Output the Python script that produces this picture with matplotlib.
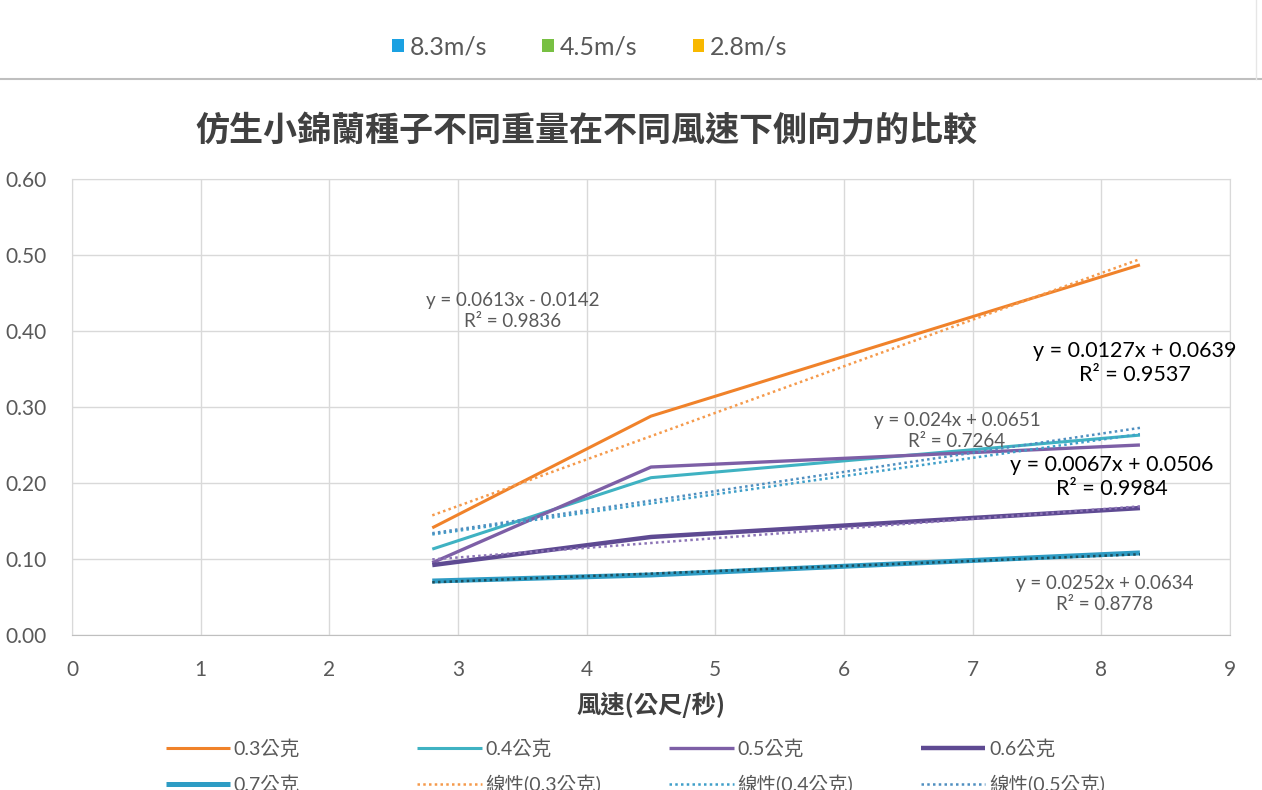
import matplotlib
matplotlib.use("Agg")
import matplotlib.pyplot as plt
from matplotlib.lines import Line2D
from matplotlib.patches import Patch
import numpy as np

plt.rcParams['font.family'] = ['Lato', 'Noto Sans CJK TC', 'DejaVu Sans']

# Wind speeds (m/s) and lateral force for each seed weight
wind_speed = [2.8, 4.5, 8.3]
force_03 = [0.141, 0.288, 0.487]
force_04 = [0.113, 0.207, 0.263]
force_05 = [0.095, 0.221, 0.250]
force_06 = [0.092, 0.129, 0.167]
force_07 = [0.071, 0.079, 0.108]

series_names = ['0.3公克', '0.4公克', '0.5公克', '0.6公克', '0.7公克']

# Linear trend lines: (slope, intercept, R²)
trend_03 = (0.0613, -0.0142, 0.9836)
trend_04 = (0.024, 0.0651, 0.7264)
trend_05 = (0.0252, 0.0634, 0.8778)
trend_06 = (0.0127, 0.0639, 0.9537)
trend_07 = (0.0067, 0.0506, 0.9984)

top_legend_labels = ['8.3m/s', '4.5m/s', '2.8m/s']
top_legend_colors = ['#1ba1e2', '#78c043', '#f8b800']

x_ticks = list(range(0, 10))
y_ticks = [0.0, 0.1, 0.2, 0.3, 0.4, 0.5, 0.6]

colors = ['#f0822a', '#3fb2c2', '#7d5fa6', '#5e4a92', '#2e9cc4']
trend_colors = ['#f59a4c', '#3f9fc9', '#4f8fc0', '#8c74b6', '#1d4e5c']
widths = [2.2, 2.2, 2.4, 3.2, 3.6]

fig = plt.figure(figsize=(12.62, 7.9), dpi=100)
ax = fig.add_axes([72 / 1262, 1 - 635 / 790, (1230 - 72) / 1262, (635 - 179) / 790])

forces = [force_03, force_04, force_05, force_06, force_07]
trends = [trend_03, trend_04, trend_05, trend_06, trend_07]

handles_lines = []
for name, f, c, w in zip(series_names, forces, colors, widths):
    h, = ax.plot(wind_speed, f, color=c, lw=w, solid_capstyle='butt', zorder=3)
    handles_lines.append(h)

xfit = np.array([wind_speed[0], wind_speed[-1]])
handles_trend = []
for name, (m, b, r2), c in zip(series_names, trends, trend_colors):
    h, = ax.plot(xfit, m * xfit + b, color=c, lw=1.8, ls=(0, (1, 1.3)), zorder=4)
    handles_trend.append(h)

ax.set_xlim(0, 9)
ax.set_ylim(0, 0.6)
ax.set_xticks(x_ticks)
ax.set_yticks(y_ticks)
ax.set_yticklabels([f'{v:.2f}' for v in y_ticks])
ax.grid(True, color='#d9d9d9', lw=1.0)
ax.set_axisbelow(True)
for s in ax.spines.values():
    s.set_color('#d9d9d9')
ax.spines['bottom'].set_color('#bfbfbf')
ax.tick_params(length=0, labelsize=15, colors='#595959')
ax.tick_params(axis='x', pad=18)
ax.tick_params(axis='y', pad=18)

ax.set_xlabel('風速(公尺/秒)', fontsize=17.5, color='#404040', fontweight='bold',
              family=['Noto Sans CJK TC'], labelpad=9)
fig.text(586 / 1262, 1 - 130 / 790, '仿生小錦蘭種子不同重量在不同風速下側向力的比較',
         ha='center', va='center', fontsize=24.5, fontweight='bold', color='#404040',
         family=['Noto Sans CJK TC'])

# Trend line equations
def eq_text(m, b, r2):
    sign = '-' if b < 0 else '+'
    return f'y = {m:g}x {sign} {abs(b):.4f}\nR² = {r2:.4f}'

def px(xp, yp):
    return (xp - 72) / 128.67, (635 - yp) / 760

ax.text(*px(513, 311), eq_text(*trend_03),
        ha='center', va='center', fontsize=13.5, color='#595959', linespacing=1.3)
ax.text(*px(1135, 363), eq_text(*trend_06),
        ha='center', va='center', fontsize=15.5, color='#000000', linespacing=1.3)
ax.text(*px(957, 431), eq_text(*trend_04),
        ha='center', va='center', fontsize=13.5, color='#595959', linespacing=1.3)
ax.text(*px(1112, 477), eq_text(*trend_07),
        ha='center', va='center', fontsize=15.5, color='#000000', linespacing=1.3)
ax.text(*px(1105, 594), eq_text(*trend_05),
        ha='center', va='center', fontsize=13.5, color='#595959', linespacing=1.3)

# Bottom legend, arranged row by row
all_handles = handles_lines + handles_trend
all_labels = series_names + [f'線性({n})' for n in series_names]
order = [0, 4, 8, 1, 5, 9, 2, 6, 3, 7]
leg = fig.legend([all_handles[i] for i in order], [all_labels[i] for i in order],
                 ncol=4, loc='upper left', bbox_to_anchor=(148 / 1262, 1 - 722 / 790),
                 frameon=False, fontsize=14, handlelength=3.3, handletextpad=0.2,
                 columnspacing=3.5, labelspacing=0.85, labelcolor='#595959')

# Upper panel legend and separator
top_handles = [Patch(facecolor=c, edgecolor='none') for c in top_legend_colors]
fig.legend(top_handles, top_legend_labels, ncol=3, loc='center',
           bbox_to_anchor=(590 / 1262, 1 - 47 / 790), frameon=False, fontsize=18,
           handlelength=0.45, handleheight=0.45, handletextpad=0.25, columnspacing=2.2,
           labelcolor='#595959')
fig.add_artist(Line2D([0, 1], [1 - 79 / 790, 1 - 79 / 790], transform=fig.transFigure,
                      color='#bfbfbf', lw=1.5))
fig.add_artist(Line2D([1256 / 1262, 1256 / 1262], [1 - 79 / 790, 1], transform=fig.transFigure,
                      color='#e6e6e6', lw=1.0))

fig.savefig('out.png', dpi=100)
